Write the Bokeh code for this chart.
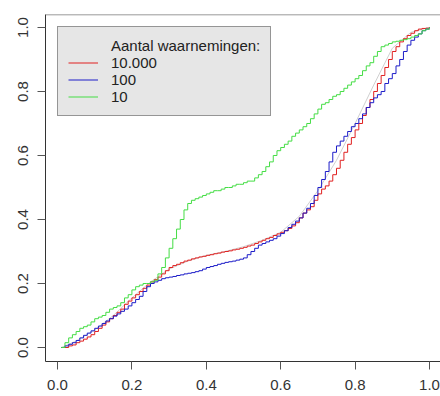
from bokeh.plotting import figure
from bokeh.models import Range1d, Legend, LegendItem, Span, FixedTicker, PrintfTickFormatter
from bokeh.embed import file_html
from bokeh.resources import INLINE

# sampling positions along x (0.01 ... 1.00)
x_grid = [round(0.01 * i, 2) for i in range(1, 101)]

# 10.000 waarnemingen (red)
y_10000 = [0.00, 0.00, 0.005, 0.008, 0.015, 0.02, 0.026, 0.033, 0.04, 0.05,
           0.06, 0.07, 0.08, 0.09, 0.10, 0.11, 0.12, 0.135, 0.145, 0.155,
           0.165, 0.175, 0.185, 0.195, 0.205, 0.212, 0.22, 0.23, 0.24, 0.25,
           0.256, 0.26, 0.265, 0.27, 0.273, 0.277, 0.28, 0.283, 0.285, 0.288,
           0.29, 0.293, 0.295, 0.298, 0.30, 0.302, 0.305, 0.307, 0.31, 0.313,
           0.317, 0.32, 0.325, 0.33, 0.335, 0.34, 0.344, 0.35, 0.355, 0.36,
           0.365, 0.372, 0.38, 0.39, 0.405, 0.42, 0.43, 0.44, 0.46, 0.48,
           0.495, 0.505, 0.52, 0.54, 0.56, 0.585, 0.61, 0.635, 0.656, 0.68,
           0.70, 0.725, 0.75, 0.775, 0.80, 0.825, 0.85, 0.875, 0.90, 0.925,
           0.94, 0.955, 0.965, 0.975, 0.982, 0.99, 0.995, 0.997, 0.998, 1.00]

# 100 waarnemingen (blue)
y_100 = [0.00, 0.005, 0.01, 0.015, 0.022, 0.03, 0.038, 0.045, 0.052, 0.06,
         0.067, 0.075, 0.083, 0.09, 0.098, 0.105, 0.113, 0.12, 0.13, 0.14,
         0.15, 0.16, 0.175, 0.19, 0.20, 0.205, 0.21, 0.215, 0.218, 0.22,
         0.222, 0.225, 0.227, 0.23, 0.232, 0.234, 0.237, 0.24, 0.245, 0.25,
         0.253, 0.256, 0.26, 0.263, 0.266, 0.268, 0.27, 0.273, 0.276, 0.28,
         0.29, 0.30, 0.31, 0.32, 0.325, 0.33, 0.335, 0.34, 0.348, 0.356,
         0.365, 0.375, 0.385, 0.395, 0.405, 0.42, 0.435, 0.45, 0.475, 0.50,
         0.525, 0.55, 0.58, 0.61, 0.63, 0.645, 0.66, 0.675, 0.69, 0.70,
         0.715, 0.73, 0.75, 0.765, 0.78, 0.79, 0.80, 0.825, 0.84, 0.856,
         0.88, 0.90, 0.925, 0.945, 0.96, 0.97, 0.98, 0.99, 0.995, 1.00]

# 10 waarnemingen (green)
y_10 = [0.00, 0.015, 0.03, 0.04, 0.05, 0.06, 0.065, 0.07, 0.08, 0.09,
        0.095, 0.10, 0.11, 0.12, 0.125, 0.13, 0.14, 0.155, 0.165, 0.18,
        0.19, 0.195, 0.20, 0.20, 0.205, 0.21, 0.23, 0.25, 0.28, 0.31,
        0.34, 0.37, 0.40, 0.43, 0.45, 0.46, 0.465, 0.47, 0.475, 0.48,
        0.485, 0.49, 0.49, 0.495, 0.50, 0.50, 0.505, 0.51, 0.51, 0.515,
        0.52, 0.52, 0.53, 0.54, 0.55, 0.565, 0.58, 0.60, 0.615, 0.625,
        0.635, 0.645, 0.66, 0.67, 0.68, 0.69, 0.70, 0.715, 0.73, 0.745,
        0.76, 0.765, 0.775, 0.785, 0.79, 0.80, 0.81, 0.82, 0.83, 0.84,
        0.85, 0.865, 0.88, 0.89, 0.91, 0.925, 0.94, 0.945, 0.95, 0.955,
        0.957, 0.96, 0.962, 0.965, 0.97, 0.975, 0.98, 0.99, 0.995, 1.00]

# faint reference curve (light grey)
x_ref = [0.01, 0.05, 0.10, 0.15, 0.20, 0.25, 0.30, 0.35, 0.40, 0.45, 0.50,
         0.55, 0.60, 0.65, 0.70, 0.75, 0.80, 0.85, 0.90, 0.95, 1.00]
y_ref = [0.00, 0.02, 0.055, 0.10, 0.155, 0.205, 0.245, 0.27, 0.288, 0.30, 0.315,
         0.335, 0.36, 0.41, 0.49, 0.585, 0.70, 0.82, 0.935, 0.985, 1.00]

series_labels = ["10.000", "100", "10"]
legend_title = "Aantal waarnemingen:"
ticks = [0.0, 0.2, 0.4, 0.6, 0.8, 1.0]

FONT = "Liberation Sans"

p = figure(width=440, height=396, output_backend="svg", toolbar_location=None,
           x_range=Range1d(-0.0323, 1.0296), y_range=Range1d(-0.04375, 1.0406),
           min_border_left=45, min_border_right=0, min_border_top=14, min_border_bottom=35)

p.xgrid.visible = False
p.ygrid.visible = False
p.outline_line_color = None
p.background_fill_color = "white"

for ax in (p.xaxis[0], p.yaxis[0]):
    ax.ticker = FixedTicker(ticks=ticks)
    ax.formatter = PrintfTickFormatter(format="%.1f")
    ax.major_tick_out = 8
    ax.major_tick_in = 0
    ax.minor_tick_out = 0
    ax.minor_tick_in = 0
    ax.axis_line_color = "#333333"
    ax.major_tick_line_color = "#555555"
    ax.major_label_text_font = FONT
    ax.major_label_text_font_size = "15px"
    ax.major_label_text_color = "#333333"
p.xaxis[0].major_label_standoff = 10
p.yaxis[0].major_label_standoff = 9
p.yaxis[0].major_label_orientation = "vertical"

p.add_layout(Span(location=1.0400, dimension="width", line_color="#555555", line_width=1))

r_ref = p.line(x_ref, y_ref, line_color="#d0d0d0", line_width=1)
r_red = p.step(x_grid, y_10000, mode="after", line_color="#e02020", line_width=1)
r_blue = p.step(x_grid, y_100, mode="after", line_color="#1c1cc8", line_width=1)
r_green = p.step(x_grid, y_10, mode="after", line_color="#44dd44", line_width=1)
dummy = p.line(x=[], y=[], line_alpha=0)

items = [LegendItem(label=legend_title, renderers=[dummy]),
         LegendItem(label=series_labels[0], renderers=[r_red]),
         LegendItem(label=series_labels[1], renderers=[r_blue]),
         LegendItem(label=series_labels[2], renderers=[r_green])]
legend = Legend(items=items, location="top_left", margin=12, padding=10, spacing=0,
                label_height=17, glyph_height=17, glyph_width=30, label_standoff=13,
                background_fill_color="#e6e6e6", background_fill_alpha=1,
                border_line_color="#444444", border_line_width=1,
                label_text_font=FONT, label_text_font_size="15px",
                label_text_color="#222222")
p.add_layout(legend)

open("out.html", "w").write(file_html(p, INLINE))
